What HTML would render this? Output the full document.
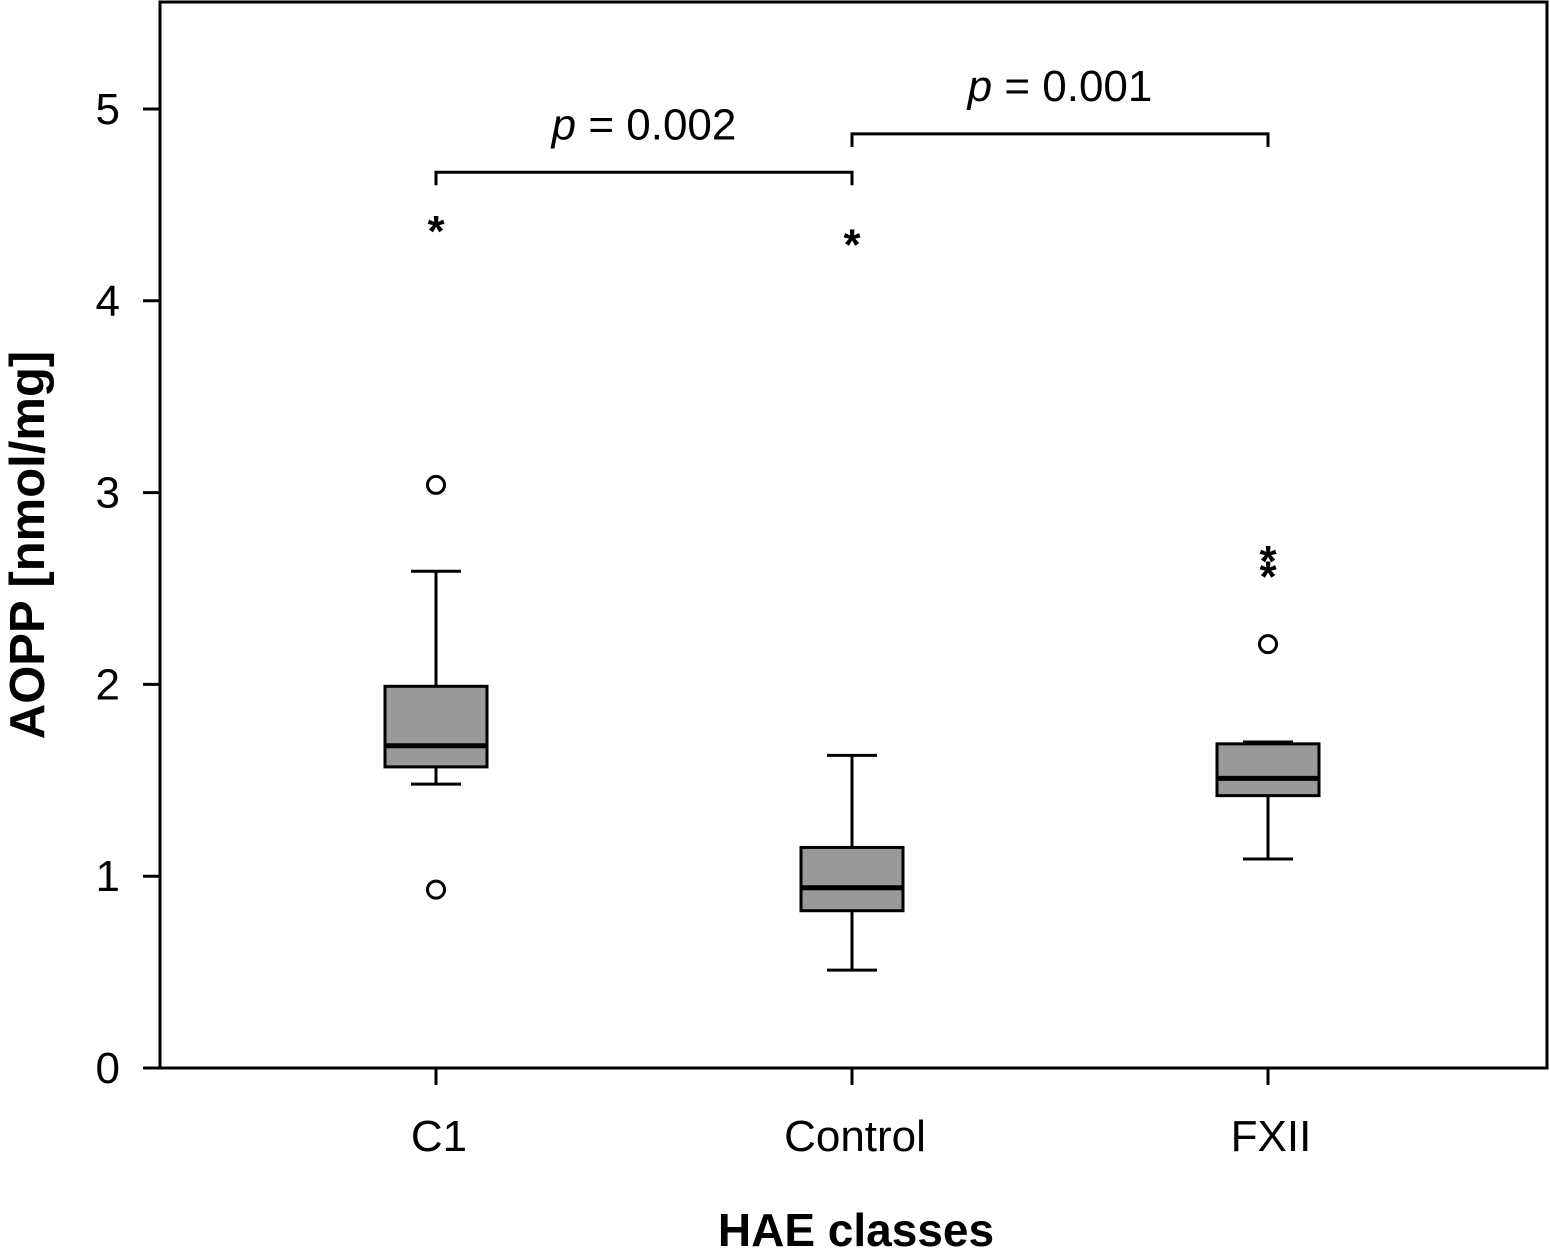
<!DOCTYPE html>
<html><head><meta charset="utf-8"><style>
html,body{margin:0;padding:0;background:#fff;}
svg{display:block;font-family:"Liberation Sans","DejaVu Sans",sans-serif;}
</style></head><body>
<svg id="chart" width="1550" height="1251" viewBox="0 0 1550 1251" xmlns="http://www.w3.org/2000/svg">
<rect x="160" y="2" width="1387" height="1066" fill="none" stroke="#000" stroke-width="3"/>
<g id="yaxis"></g>
<g id="xaxis"></g>
<g id="boxes"></g>
<g id="brackets"></g>
<text x="44" y="545" font-size="49" font-weight="bold" text-anchor="middle" transform="rotate(-90 44 545)">AOPP [nmol/mg]</text>
<text x="856" y="1246" font-size="46" font-weight="bold" text-anchor="middle">HAE classes</text>
</svg>
<script>
const categories=["C1","Control","FXII"];
const q1=[1.57,0.82,1.42];
const q3=[1.99,1.15,1.69];
const medians=[1.68,0.94,1.51];
const whiskLow=[1.48,0.51,1.09];
const whiskHigh=[2.59,1.63,1.70];
const circleOutliers=[[3.04,0.93],[],[2.21]];
const starOutliers=[[4.40],[4.33],[2.60,2.68]];
const yTicks=[0,1,2,3,4,5];
const comparisons=[[0,1,4.67,"0.002"],[1,2,4.87,"0.001"]];

const NS="http://www.w3.org/2000/svg";
const y=v=>1068-v*191.8;
const x=i=>436+i*416;
function mk(tag,attrs,parent,txt){const e=document.createElementNS(NS,tag);for(const k in attrs)e.setAttribute(k,attrs[k]);if(txt!==undefined)e.textContent=txt;parent.appendChild(e);return e;}
const ya=document.getElementById('yaxis'),xa=document.getElementById('xaxis'),bx=document.getElementById('boxes'),br=document.getElementById('brackets');
yTicks.forEach(t=>{
 const l=mk('line',{x1:143,x2:160,y1:y(t),y2:y(t),stroke:'#000','stroke-width':3},ya);
 
 
 const tx=mk('text',{x:120,y:y(t)+15,'font-size':44,'text-anchor':'end'},ya,String(t));
 
 
});
categories.forEach((c,i)=>{
 const l=mk('line',{x1:x(i),x2:x(i),y1:1068,y2:1085,stroke:'#000','stroke-width':3},xa);
 
 
 const tx=mk('text',{x:x(i)+3,y:1151,'font-size':44,'text-anchor':'middle'},xa,c);
 
 
 const g=mk('g',{},bx);
 
 
 const cx=x(i);
 mk('line',{x1:cx,x2:cx,y1:y(whiskHigh[i]),y2:y(q3[i]),stroke:'#000','stroke-width':3},g);
 mk('line',{x1:cx,x2:cx,y1:y(q1[i]),y2:y(whiskLow[i]),stroke:'#000','stroke-width':3},g);
 mk('line',{x1:cx-25,x2:cx+25,y1:y(whiskHigh[i]),y2:y(whiskHigh[i]),stroke:'#000','stroke-width':3},g);
 mk('line',{x1:cx-25,x2:cx+25,y1:y(whiskLow[i]),y2:y(whiskLow[i]),stroke:'#000','stroke-width':3},g);
 mk('rect',{x:cx-51,y:y(q3[i]),width:102,height:y(q1[i])-y(q3[i]),fill:'#999',stroke:'#000','stroke-width':3},g);
 mk('line',{x1:cx-51,x2:cx+51,y1:y(medians[i]),y2:y(medians[i]),stroke:'#000','stroke-width':5},g);
 circleOutliers[i].forEach(v=>{
  const o=mk('circle',{cx:cx,cy:y(v),r:8.5,fill:'#fff',stroke:'#000','stroke-width':3},g);
  
  
 });
 starOutliers[i].forEach(v=>{
  const s=mk('text',{x:cx,y:y(v)+22,'font-size':44,'font-weight':'bold','text-anchor':'middle'},g,'*');
  
  
 });
});
comparisons.forEach(([a,b,v,p])=>{
 const yy=y(v);
 const pl=mk('polyline',{points:`${x(a)},${yy+13} ${x(a)},${yy} ${x(b)},${yy} ${x(b)},${yy+13}`,fill:'none',stroke:'#000','stroke-width':3},br);
 
 
 const t=mk('text',{x:(x(a)+x(b))/2,y:yy-33,'font-size':44,'text-anchor':'middle'},br);
 
 
 mk('tspan',{'font-style':'italic'},t,'p');
 mk('tspan',{},t,' = '+p);
});
</script>
</body></html>
